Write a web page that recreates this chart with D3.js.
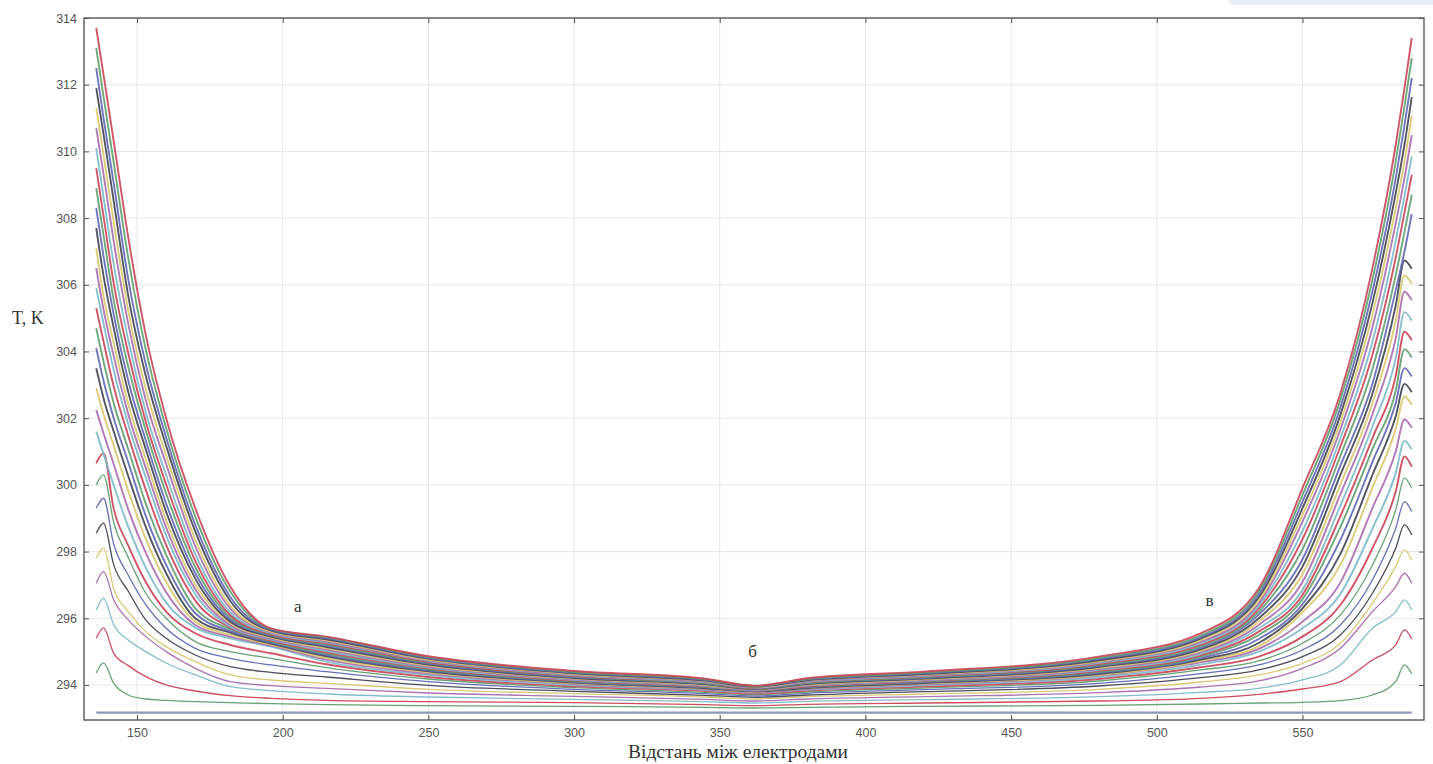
<!DOCTYPE html>
<html><head><meta charset="utf-8">
<script src="https://cdn.jsdelivr.net/npm/d3@7/dist/d3.min.js"></script>
<style>body{margin:0;background:#fff} svg{display:block}</style>
</head><body>
<svg id="c" width="1433" height="764"></svg>
<script>
// sample positions along the distance axis
const xs = [136, 138.5, 142, 147, 153, 160, 170, 182, 196, 215, 250, 300, 345, 362, 380, 420, 480, 515, 535, 550, 563, 574, 582, 585, 587.5];
// initial (flat) profile
const t00x = [136, 587.5];
const t00 = [293.17, 293.17];
// temperature profiles, K
const t01 = [294.36, 294.66, 294.05, 293.70, 293.58, 293.54, 293.50, 293.47, 293.44, 293.41, 293.38, 293.36, 293.33, 293.31, 293.33, 293.36, 293.39, 293.43, 293.46, 293.48, 293.53, 293.70, 294.10, 294.60, 294.33];
const t02 = [295.40, 295.71, 294.95, 294.58, 294.25, 294.00, 293.82, 293.68, 293.60, 293.54, 293.50, 293.47, 293.41, 293.38, 293.42, 293.46, 293.52, 293.60, 293.72, 293.88, 294.10, 294.75, 295.20, 295.65, 295.38];
const t03 = [296.25, 296.60, 295.80, 295.35, 295.00, 294.66, 294.30, 293.95, 293.83, 293.73, 293.64, 293.57, 293.50, 293.46, 293.51, 293.56, 293.65, 293.78, 293.90, 294.15, 294.60, 295.70, 296.20, 296.55, 296.25];
const t04 = [297.05, 297.40, 296.55, 295.95, 295.45, 295.00, 294.50, 294.10, 293.98, 293.90, 293.76, 293.66, 293.57, 293.52, 293.58, 293.65, 293.77, 293.94, 294.12, 294.50, 295.10, 296.20, 296.95, 297.35, 297.05];
const t05 = [297.80, 298.10, 296.88, 296.20, 295.60, 295.15, 294.70, 294.30, 294.15, 294.05, 293.87, 293.74, 293.64, 293.58, 293.65, 293.73, 293.87, 294.09, 294.30, 294.65, 295.25, 296.45, 297.55, 298.05, 297.75];
const t06 = [298.55, 298.85, 297.60, 296.81, 295.95, 295.40, 294.90, 294.55, 294.38, 294.24, 293.99, 293.81, 293.69, 293.63, 293.70, 293.80, 293.97, 294.22, 294.45, 294.85, 295.50, 296.75, 298.10, 298.80, 298.50];
const t07 = [299.30, 299.60, 298.22, 297.29, 296.41, 295.70, 295.10, 294.80, 294.60, 294.40, 294.10, 293.87, 293.74, 293.67, 293.75, 293.86, 294.05, 294.34, 294.60, 295.05, 295.80, 297.15, 298.70, 299.50, 299.20];
const t08 = [300.00, 300.30, 298.87, 297.82, 296.75, 296.00, 295.30, 295.00, 294.80, 294.52, 294.18, 293.92, 293.78, 293.71, 293.79, 293.91, 294.12, 294.45, 294.72, 295.25, 296.10, 297.60, 299.25, 300.20, 299.90];
const t09 = [300.65, 300.95, 299.28, 298.18, 297.09, 296.20, 295.55, 295.20, 294.95, 294.62, 294.24, 293.96, 293.82, 293.74, 293.83, 293.95, 294.18, 294.53, 294.85, 295.45, 296.40, 298.10, 299.80, 300.85, 300.55];
const t10 = [301.60, 300.93, 299.99, 298.74, 297.52, 296.47, 295.72, 295.40, 295.15, 294.70, 294.30, 294.00, 293.85, 293.77, 293.86, 293.99, 294.23, 294.61, 295.00, 295.70, 296.73, 298.69, 300.36, 301.32, 301.07];
const t11 = [302.25, 301.55, 300.62, 299.26, 297.96, 296.78, 295.80, 295.45, 295.18, 294.76, 294.34, 294.03, 293.87, 293.78, 293.88, 294.02, 294.28, 294.68, 295.08, 295.90, 297.07, 299.30, 301.00, 301.96, 301.71];
const t12 = [302.90, 302.12, 301.17, 299.82, 298.38, 297.09, 295.90, 295.50, 295.21, 294.81, 294.38, 294.05, 293.89, 293.80, 293.90, 294.04, 294.30, 294.72, 295.16, 296.18, 297.60, 299.92, 301.68, 302.65, 302.40];
const t13 = [303.50, 302.60, 301.60, 300.26, 298.74, 297.35, 296.00, 295.57, 295.24, 294.86, 294.41, 294.07, 293.90, 293.81, 293.91, 294.06, 294.33, 294.76, 295.26, 296.30, 297.93, 300.30, 302.06, 303.03, 302.78];
const t14 = [304.10, 303.12, 302.00, 300.67, 299.07, 297.60, 296.15, 295.62, 295.27, 294.90, 294.44, 294.09, 293.92, 293.82, 293.93, 294.08, 294.36, 294.80, 295.38, 296.42, 298.35, 300.69, 302.46, 303.50, 303.25];
const t15 = [304.70, 303.70, 302.45, 301.07, 299.44, 297.90, 296.30, 295.68, 295.30, 294.94, 294.47, 294.11, 293.94, 293.83, 293.95, 294.10, 294.39, 294.85, 295.50, 296.57, 298.74, 301.07, 302.83, 304.07, 303.82];
const t16 = [305.30, 304.30, 302.95, 301.47, 299.85, 298.20, 296.53, 295.72, 295.33, 294.98, 294.50, 294.13, 293.95, 293.84, 293.96, 294.12, 294.42, 294.89, 295.60, 296.70, 299.06, 301.40, 303.27, 304.59, 304.34];
const t17 = [305.90, 304.84, 303.44, 301.82, 300.22, 298.48, 296.72, 295.75, 295.36, 295.02, 294.52, 294.15, 293.97, 293.85, 293.98, 294.13, 294.45, 294.93, 295.70, 296.85, 299.38, 301.75, 303.80, 305.18, 304.93];
const t18 = [306.50, 305.26, 303.86, 302.12, 300.51, 298.72, 296.87, 295.80, 295.39, 295.06, 294.55, 294.17, 293.99, 293.86, 294.00, 294.15, 294.48, 294.98, 295.80, 297.09, 299.72, 302.12, 304.40, 305.79, 305.54];
const t19 = [307.10, 305.66, 304.26, 302.42, 300.77, 298.94, 297.01, 295.85, 295.42, 295.10, 294.58, 294.19, 294.00, 293.87, 294.01, 294.17, 294.51, 295.02, 295.90, 297.33, 300.01, 302.44, 304.92, 306.28, 306.03];
const t20 = [307.70, 306.27, 304.70, 302.78, 301.07, 299.19, 297.19, 295.90, 295.45, 295.14, 294.61, 294.21, 294.02, 293.88, 294.03, 294.19, 294.54, 295.07, 296.00, 297.55, 300.30, 302.73, 305.38, 306.73, 306.48];
const t21 = [308.30, 306.85, 305.10, 303.12, 301.33, 299.44, 297.35, 295.96, 295.48, 295.18, 294.64, 294.23, 294.04, 293.89, 294.05, 294.21, 294.57, 295.11, 296.11, 297.77, 300.58, 303.03, 305.84, 307.00, 308.12];
const t22 = [308.90, 307.48, 305.54, 303.54, 301.63, 299.74, 297.53, 296.03, 295.50, 295.22, 294.67, 294.25, 294.05, 293.90, 294.06, 294.23, 294.60, 295.16, 296.20, 298.07, 300.87, 303.47, 306.29, 307.58, 308.70];
const t23 = [309.50, 308.06, 306.04, 303.94, 301.89, 300.01, 297.72, 296.10, 295.52, 295.25, 294.69, 294.27, 294.07, 293.91, 294.08, 294.25, 294.63, 295.20, 296.29, 298.37, 301.15, 303.90, 306.82, 308.17, 309.30];
const t24 = [310.10, 308.63, 306.62, 304.34, 302.18, 300.29, 297.92, 296.18, 295.55, 295.28, 294.72, 294.29, 294.08, 293.92, 294.09, 294.27, 294.66, 295.25, 296.37, 298.62, 301.40, 304.29, 307.31, 308.66, 309.85];
const t25 = [310.70, 309.32, 307.30, 304.82, 302.54, 300.62, 298.16, 296.29, 295.58, 295.31, 294.74, 294.31, 294.10, 293.93, 294.11, 294.29, 294.69, 295.29, 296.45, 298.90, 301.66, 304.73, 307.85, 309.20, 310.49];
const t26 = [311.30, 309.90, 307.88, 305.22, 302.88, 300.88, 298.36, 296.38, 295.60, 295.34, 294.76, 294.33, 294.12, 293.94, 294.13, 294.31, 294.71, 295.34, 296.54, 299.10, 301.88, 305.10, 308.30, 309.70, 311.06];
const t27 = [311.90, 310.52, 308.51, 305.66, 303.27, 301.17, 298.60, 296.52, 295.63, 295.37, 294.79, 294.35, 294.13, 293.95, 294.14, 294.33, 294.74, 295.39, 296.63, 299.30, 302.10, 305.45, 308.75, 310.20, 311.63];
const t28 = [312.50, 311.00, 309.04, 306.16, 303.62, 301.42, 298.80, 296.64, 295.65, 295.40, 294.81, 294.37, 294.15, 293.96, 294.16, 294.35, 294.78, 295.43, 296.72, 299.50, 302.32, 305.80, 309.20, 310.78, 312.20];
const t29 = [313.10, 311.64, 309.66, 306.80, 304.06, 301.70, 299.05, 296.80, 295.68, 295.43, 294.84, 294.39, 294.17, 293.97, 294.18, 294.37, 294.81, 295.48, 296.81, 299.70, 302.55, 306.15, 309.70, 311.35, 312.80];
const t30 = [313.70, 312.30, 310.30, 307.42, 304.50, 302.00, 299.30, 296.95, 295.70, 295.45, 294.86, 294.42, 294.19, 293.98, 294.20, 294.40, 294.85, 295.55, 296.90, 299.90, 302.75, 306.50, 310.20, 311.90, 313.40];

const xTicks = [150, 200, 250, 300, 350, 400, 450, 500, 550];
const yTicks = [294, 296, 298, 300, 302, 304, 306, 308, 310, 312, 314];
const xTitle = "Відстань між електродами";
const yTitle = "T, K";
const marks = ["а", "б", "в"];
const markX = [205.2, 361.3, 518.1];
const markY = [296.34, 294.99, 296.52];
const palette = ["#5f67b5", "#5f9e6e", "#c94456", "#7bbac9", "#a86aae", "#d8c66e", "#40444f"];

const profiles = [t01,t02,t03,t04,t05,t06,t07,t08,t09,t10,t11,t12,t13,t14,t15,t16,t17,t18,t19,t20,t21,t22,t23,t24,t25,t26,t27,t28,t29,t30];

const L = 84, R = 1424, T = 18, B = 720;
const svg = d3.select("#c");
const x = d3.scaleLinear().domain([131.8, 591.7]).range([L, R]);
const y = d3.scaleLinear().domain([292.95, 314]).range([B, T]);

// page tint top right
svg.append("rect").attr("x", 1228).attr("y", -6).attr("width", 220).attr("height", 11).attr("rx", 5).attr("fill", "#e7edf2");

// grid
const g = svg.append("g");
g.selectAll(".gx").data(xTicks).join("line")
  .attr("x1", d => x(d)).attr("x2", d => x(d)).attr("y1", T).attr("y2", B)
  .attr("stroke", "#e6e6e6").attr("stroke-width", 1);
g.selectAll(".gy").data(yTicks).join("line")
  .attr("x1", L).attr("x2", R).attr("y1", d => y(d)).attr("y2", d => y(d))
  .attr("stroke", "#e6e6e6").attr("stroke-width", 1);

// curves
const line = d3.line().x((d, i) => x(xs[i])).y(d => y(d)).curve(d3.curveMonotoneX);
const line0 = d3.line().x((d, i) => x(t00x[i])).y(d => y(d));
const cg = svg.append("g");
cg.append("path").attr("d", line0(t00)).attr("fill", "none")
  .attr("stroke", "#9096b8").attr("stroke-width", 2.4);
profiles.forEach((p, i) => {
  cg.append("path").attr("d", line(p)).attr("fill", "none")
    .attr("stroke", palette[(i + 1) % palette.length])
    .attr("stroke-width", i < 8 ? 1.3 : 1.9)
    .attr("stroke-opacity", i < 8 ? 0.95 : 0.9)
    .attr("stroke-linejoin", "round");
});

// axes
const font = "'Liberation Sans', Arial, sans-serif";
function styleAxis(sel) {
  sel.select(".domain").attr("stroke", "none");
  sel.selectAll(".tick line").attr("stroke", "#555").attr("stroke-width", 1);
  sel.selectAll(".tick text").attr("fill", "#555").style("font-family", font).style("font-size", "12.5px");
}
svg.append("g").attr("transform", `translate(0,${B})`)
  .call(d3.axisBottom(x).tickValues(xTicks).tickSizeInner(-5).tickSizeOuter(0).tickPadding(8))
  .call(styleAxis);
svg.append("g").attr("transform", `translate(0,${T})`)
  .call(d3.axisTop(x).tickValues(xTicks).tickSizeInner(-5).tickSizeOuter(0).tickFormat(""))
  .call(styleAxis);
svg.append("g").attr("transform", `translate(${L},0)`)
  .call(d3.axisLeft(y).tickValues(yTicks).tickSizeInner(-5).tickSizeOuter(0).tickPadding(7))
  .call(styleAxis);
svg.append("g").attr("transform", `translate(${R},0)`)
  .call(d3.axisRight(y).tickValues(yTicks).tickSizeInner(-5).tickSizeOuter(0).tickFormat(""))
  .call(styleAxis);

// frame
svg.append("rect").attr("x", L).attr("y", T).attr("width", R - L).attr("height", B - T)
  .attr("fill", "none").attr("stroke", "#5a5a5a").attr("stroke-width", 1.4);

// titles
const serif = "'Liberation Serif', 'DejaVu Serif', serif";
svg.append("text").attr("x", 738).attr("y", 758).attr("text-anchor", "middle")
  .style("font-family", serif).style("font-size", "19.5px").attr("fill", "#333").text(xTitle);
svg.append("text").attr("x", 12).attr("y", 324)
  .style("font-family", serif).style("font-size", "18px").attr("fill", "#333").text(yTitle);

// annotations
svg.selectAll(".mk").data(marks).join("text")
  .attr("x", (d, i) => x(markX[i])).attr("y", (d, i) => y(markY[i]) + 5)
  .attr("text-anchor", "middle")
  .style("font-family", serif).style("font-size", "17px").attr("fill", "#333")
  .text(d => d);
</script>
</body></html>
